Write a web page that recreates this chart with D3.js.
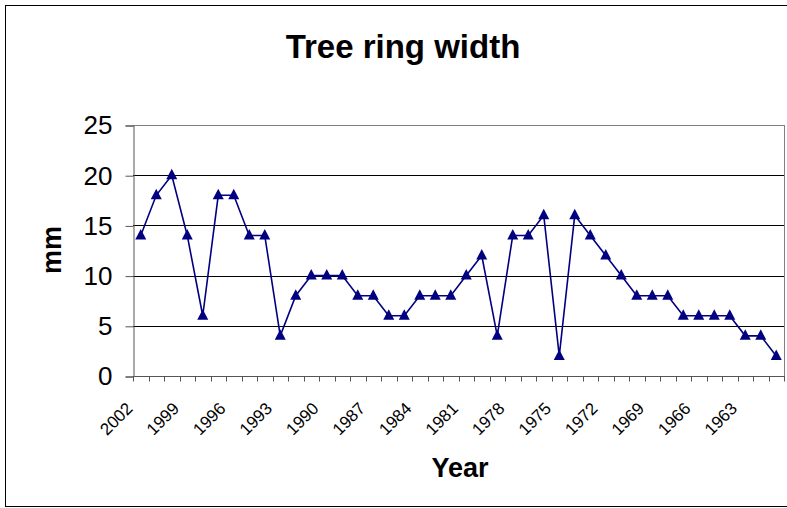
<!DOCTYPE html>
<html>
<head>
<meta charset="utf-8">
<script src="https://cdn.jsdelivr.net/npm/d3@7"></script>
<style>
  html, body { margin: 0; padding: 0; background: #fff; }
  svg { display: block; font-family: "Liberation Sans", Arial, sans-serif; }
</style>
</head>
<body>
<svg id="chart" width="787" height="508"></svg>
<script>
// Tree ring widths, newest year first
const years = [2002, 2001, 2000, 1999, 1998, 1997, 1996, 1995, 1994, 1993,
               1992, 1991, 1990, 1989, 1988, 1987, 1986, 1985, 1984, 1983,
               1982, 1981, 1980, 1979, 1978, 1977, 1976, 1975, 1974, 1973,
               1972, 1971, 1970, 1969, 1968, 1967, 1966, 1965, 1964, 1963,
               1962, 1961];
const widths = [14, 18, 20, 14, 6, 18, 18, 14, 14, 4,
                8, 10, 10, 10, 8, 8, 6, 6, 8, 8,
                8, 10, 12, 4, 14, 14, 16, 2, 16, 14,
                12, 10, 8, 8, 8, 6, 6, 6, 6, 4,
                4, 2];
const yTicks = [0, 5, 10, 15, 20, 25];
const labelYears = [2002, 1999, 1996, 1993, 1990, 1987, 1984, 1981, 1978,
                    1975, 1972, 1969, 1966, 1963];

const svg = d3.select("#chart");
const plot = { left: 133, right: 784, top: 125, bottom: 376 };

// outer chart frame
svg.append("rect")
  .attr("x", 5.5).attr("y", 5.5)
  .attr("width", 790).attr("height", 501)
  .attr("fill", "#fff").attr("stroke", "#000").attr("stroke-width", 1);

const x = d3.scaleBand().domain(years).range([plot.left, plot.right]).padding(0);
const y = d3.scaleLinear().domain([0, 25]).range([plot.bottom, plot.top]);

// horizontal gridlines
svg.append("g")
  .selectAll("line")
  .data(yTicks.filter(d => d > 0))
  .join("line")
  .attr("x1", plot.left).attr("x2", plot.right)
  .attr("y1", d => Math.round(y(d)) + 0.5).attr("y2", d => Math.round(y(d)) + 0.5)
  .attr("stroke", d => d === 25 ? "#808080" : "#000")
  .attr("stroke-width", 1);

// plot area right edge
svg.append("line")
  .attr("x1", plot.right + 0.5).attr("x2", plot.right + 0.5)
  .attr("y1", plot.top).attr("y2", plot.bottom)
  .attr("stroke", "#808080");

// y axis
const yAxis = d3.axisLeft(y).tickValues(yTicks).tickSize(8).tickPadding(13)
  .tickFormat(d3.format("d"));
const gy = svg.append("g")
  .attr("transform", `translate(${plot.left + 0.5},0.5)`)
  .call(yAxis);
gy.select(".domain").attr("stroke", "#555");
gy.selectAll(".tick line").attr("stroke", "#555");
gy.selectAll(".tick text")
  .attr("font-size", 26).attr("fill", "#000")
  .attr("font-family", "Liberation Sans, Arial, sans-serif");

// x axis: ticks on category boundaries
const gx = svg.append("g").attr("transform", `translate(0,${plot.bottom + 0.5})`);
gx.append("line")
  .attr("x1", plot.left).attr("x2", plot.right + 1)
  .attr("stroke", "#555");
gx.selectAll("line.tick")
  .data(years.concat([null]))
  .join("line")
  .attr("class", "tick")
  .attr("x1", (d, i) => Math.round(plot.left + i * x.step()) + 0.5)
  .attr("x2", (d, i) => Math.round(plot.left + i * x.step()) + 0.5)
  .attr("y1", 0).attr("y2", 5)
  .attr("stroke", "#555");
gx.selectAll("text")
  .data(labelYears)
  .join("text")
  .attr("transform", d => `translate(${x(d) + x.bandwidth() / 2 - 7},33) rotate(-45)`)
  .attr("text-anchor", "end")
  .attr("font-size", 17)
  .attr("fill", "#000")
  .text(d => d);

// series line
const cx = d => x(d) + x.bandwidth() / 2;
const line = d3.line().x(d => cx(d[0])).y(d => y(d[1]));
const pts = years.map((yr, i) => [yr, widths[i]]);
svg.append("path")
  .datum(pts)
  .attr("d", line)
  .attr("fill", "none")
  .attr("stroke", "#000080")
  .attr("stroke-width", 1.6);

// triangle markers
svg.append("g")
  .selectAll("path")
  .data(pts)
  .join("path")
  .attr("transform", d => `translate(${cx(d[0])},${y(d[1])})`)
  .attr("d", "M0,-6.5L5.5,4L-5.5,4Z")
  .attr("fill", "#000080");

// titles
svg.append("text")
  .attr("x", 403).attr("y", 58)
  .attr("text-anchor", "middle")
  .attr("font-size", 33).attr("font-weight", "bold")
  .text("Tree ring width");

svg.append("text")
  .attr("x", 460).attr("y", 477)
  .attr("text-anchor", "middle")
  .attr("font-size", 27).attr("font-weight", "bold")
  .text("Year");

svg.append("text")
  .attr("transform", "translate(61,250) rotate(-90)")
  .attr("text-anchor", "middle")
  .attr("font-size", 27).attr("font-weight", "bold")
  .text("mm");
</script>
</body>
</html>
